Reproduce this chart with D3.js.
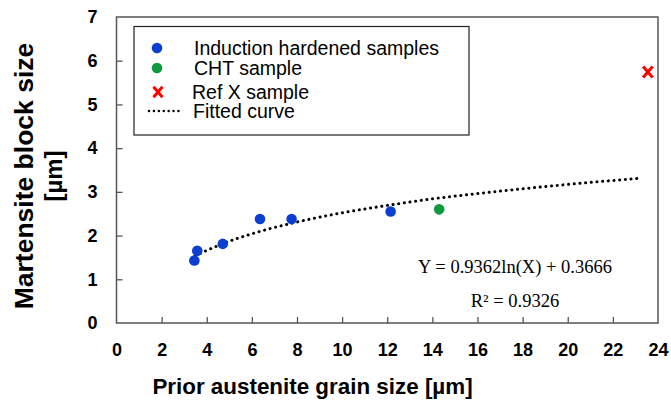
<!DOCTYPE html>
<html>
<head>
<meta charset="utf-8">
<script src="https://cdn.jsdelivr.net/npm/d3@7"></script>
<style>
  html, body { margin: 0; padding: 0; background: #fff; }
  svg { display: block; }
</style>
</head>
<body>
<svg id="chart" width="671" height="403" font-family="Liberation Sans, Arial, Helvetica, sans-serif"></svg>
<script>
// ---- data ----
const inductionX = [3.45, 3.58, 4.71, 6.36, 7.76, 12.15];
const inductionY = [1.43, 1.65, 1.81, 2.38, 2.38, 2.55];
const chtX = [14.3];
const chtY = [2.60];
const refX = [23.55];
const refY = [5.74];
// fitted curve points (dotted line)
const fitX = [3.48, 4, 5, 6, 8, 10, 12, 14, 16, 18, 20, 22, 23.2];
const fitY = [1.54, 1.66, 1.87, 2.04, 2.31, 2.52, 2.69, 2.84, 2.96, 3.07, 3.17, 3.26, 3.31];
const xTicks = [0, 2, 4, 6, 8, 10, 12, 14, 16, 18, 20, 22, 24];
const yTicks = [0, 1, 2, 3, 4, 5, 6, 7];
const legendLabels = ["Induction hardened samples", "CHT sample", "Ref X sample", "Fitted curve"];
const equationText = "Y = 0.9362ln(X) + 0.3666";
const r2Text = "R² = 0.9326";
const xTitle = "Prior austenite grain size [µm]";
const yTitleLines = ["Martensite block size", "[µm]"];

const BLUE = "#0b3fd1", GREEN = "#109a3e", RED = "#ff0000", FRAME = "#555";
const SANS = "'Liberation Sans', Arial, Helvetica, sans-serif";
const SERIF = "'Liberation Serif', 'Times New Roman', serif";

const svg = d3.select("#chart");
const L = 116.5, R = 658, T = 17, B = 323;
const x = d3.scaleLinear().domain([0, 24]).range([L, R]);
const y = d3.scaleLinear().domain([0, 7]).range([B, T]);

// frame
svg.append("rect").attr("x", L).attr("y", T).attr("width", R - L).attr("height", B - T)
  .attr("fill", "none").attr("stroke", FRAME).attr("stroke-width", 1.5);

// axes
const xAxis = d3.axisBottom(x).tickValues(xTicks).tickSize(-6).tickSizeOuter(0).tickPadding(20).tickFormat(d3.format("d"));
const gx = svg.append("g").attr("transform", `translate(0,${B})`).call(xAxis);
const yAxis = d3.axisLeft(y).tickValues(yTicks).tickSize(-6).tickSizeOuter(0).tickPadding(19).tickFormat(d3.format("d"));
const gy = svg.append("g").attr("transform", `translate(${L},0)`).call(yAxis);
[gx, gy].forEach(g => {
  g.attr("font-family", null).attr("font-size", null);
  g.select(".domain").remove();
  g.selectAll(".tick line").attr("stroke", FRAME).attr("stroke-width", 1.3);
  g.selectAll(".tick text").attr("fill", "#000").style("font-size", "18px").style("font-weight", "bold")
    .style("font-family", SANS);
});
// hide ticks sitting on the frame edges
gx.selectAll(".tick").filter(d => d === 0 || d === 24).select("line").remove();
gy.selectAll(".tick").filter(d => d === 0 || d === 7).select("line").remove();

// axis titles
svg.append("text").attr("x", 312.5).attr("y", 394).attr("text-anchor", "middle")
  .style("font-family", SANS).style("font-size", "22.4px").style("font-weight", "bold").text(xTitle);
const yt = svg.append("text").attr("transform", "translate(0,176) rotate(-90)")
  .attr("text-anchor", "middle").style("font-family", SANS).style("font-weight", "bold").style("font-size", "26.5px");
yt.append("tspan").attr("x", 0).attr("y", 33).text(yTitleLines[0]);
yt.append("tspan").attr("x", 0).attr("y", 62).style("font-size", "24px").text(yTitleLines[1]);

// fitted curve (dotted)
const fitPts = fitX.map((v, i) => [v, fitY[i]]);
svg.append("path").datum(fitPts)
  .attr("d", d3.line().x(d => x(d[0])).y(d => y(d[1])).curve(d3.curveMonotoneX))
  .attr("fill", "none").attr("stroke", "#000").attr("stroke-width", 3)
  .attr("stroke-linecap", "round").attr("stroke-dasharray", "0.1,5.6");

// points
const ind = inductionX.map((v, i) => [v, inductionY[i]]);
svg.append("g").selectAll("circle").data(ind).join("circle")
  .attr("cx", d => x(d[0])).attr("cy", d => y(d[1])).attr("r", 5.3).attr("fill", BLUE);
const cht = chtX.map((v, i) => [v, chtY[i]]);
svg.append("g").selectAll("circle").data(cht).join("circle")
  .attr("cx", d => x(d[0])).attr("cy", d => y(d[1])).attr("r", 5.3).attr("fill", GREEN);
const rx = refX.map((v, i) => [v, refY[i]]);
function drawX(g, cx, cy, s) {
  g.append("path").attr("d", `M${cx - s},${cy - s * 1.15}L${cx + s},${cy + s * 1.15}M${cx - s},${cy + s * 1.15}L${cx + s},${cy - s * 1.15}`)
    .attr("stroke", RED).attr("stroke-width", 3).attr("fill", "none");
}
const gr = svg.append("g");
rx.forEach(d => drawX(gr, x(d[0]), y(d[1]), 4.8));

// equation texts
svg.append("text").attr("x", 515).attr("y", 273).attr("text-anchor", "middle")
  .style("font-family", SERIF).style("font-size", "18.5px").text(equationText);
svg.append("text").attr("x", 515).attr("y", 306.5).attr("text-anchor", "middle")
  .style("font-family", SERIF).style("font-size", "18.5px").text(r2Text);

// legend
const lg = svg.append("g");
lg.append("rect").attr("x", 134).attr("y", 26.5).attr("width", 335).attr("height", 108.5)
  .attr("fill", "#fff").attr("stroke", "#222").attr("stroke-width", 1.2);
const legY = [48, 68, 92, 111];
lg.append("circle").attr("cx", 157).attr("cy", legY[0]).attr("r", 5.3).attr("fill", BLUE);
lg.append("circle").attr("cx", 157).attr("cy", legY[1]).attr("r", 5.3).attr("fill", GREEN);
drawX(lg, 158, legY[2], 4.5);
lg.append("line").attr("x1", 149).attr("x2", 183).attr("y1", legY[3]).attr("y2", legY[3])
  .attr("stroke", "#000").attr("stroke-width", 2.4).attr("stroke-linecap", "round").attr("stroke-dasharray", "0.1,4.8");
const legTx = [194, 194, 192, 193];
legendLabels.forEach((t, i) => {
  lg.append("text").attr("x", legTx[i]).attr("y", legY[i]).attr("dy", "0.36em")
    .style("font-family", SANS).style("font-size", "19.5px").attr("fill", "#000").text(t);
});
</script>
</body>
</html>
